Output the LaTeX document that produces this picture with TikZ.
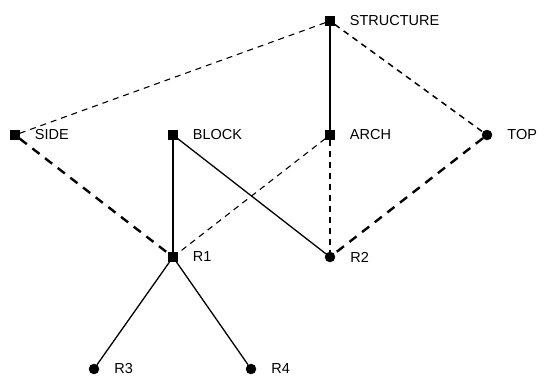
\documentclass[tikz,border=0pt]{standalone}
\usepackage{fontspec}
\setmainfont{Liberation Sans}
\usepackage{tikz}

\begin{document}
\begin{tikzpicture}[x=1pt, y=-1pt,
    lbl/.style={label={[font=\fontsize{14.5}{15}\selectfont, inner sep=0pt, xshift=15pt]right:#1}},
    sq/.style={rectangle, fill=black, draw=black, minimum size=9pt, inner sep=0pt},
    dot/.style={circle, fill=black, draw=black, minimum size=10pt, inner sep=0pt},
    thindash/.style={line width=1.1pt, dash pattern=on 6pt off 5pt},
    thickdash/.style={line width=2.4pt, dash pattern=on 9pt off 7pt}]
    \useasboundingbox (0, 0) rectangle (548, 379);

    \node[sq, lbl=STRUCTURE] (struct) at (330, 21) {};
    \node[sq, lbl=SIDE] (side) at (15, 135) {};
    \node[sq, lbl=BLOCK] (block) at (173, 135) {};
    \node[sq, lbl=ARCH] (arch) at (330, 135) {};
    \node[dot, lbl=TOP] (top) at (487, 135) {};
    \node[sq, lbl=R1] (r1) at (173, 257) {};
    \node[dot, lbl=R2] (r2) at (330, 257) {};
    \node[dot, lbl=R3] (r3) at (94, 369) {};
    \node[dot, lbl=R4] (r4) at (251, 369) {};

    \draw[line width=1.3pt] (struct) -- (arch);
    \draw[line width=1.3pt] (block) -- (r1);
    \draw[line width=1.3pt] (block) -- (r2);
    \draw[line width=1.3pt] (r1) -- (r3);
    \draw[line width=1.3pt] (r1) -- (r4);
    \draw[thindash] (struct) -- (side);
    \draw[thindash, line width=1.5pt] (struct) -- (top);
    \draw[thindash] (arch) -- (r1);
    \draw[thindash] (arch) -- (r2);
    \draw[thickdash] (side) -- (r1);
    \draw[thickdash] (top) -- (r2);

  \end{tikzpicture}
\end{document}
